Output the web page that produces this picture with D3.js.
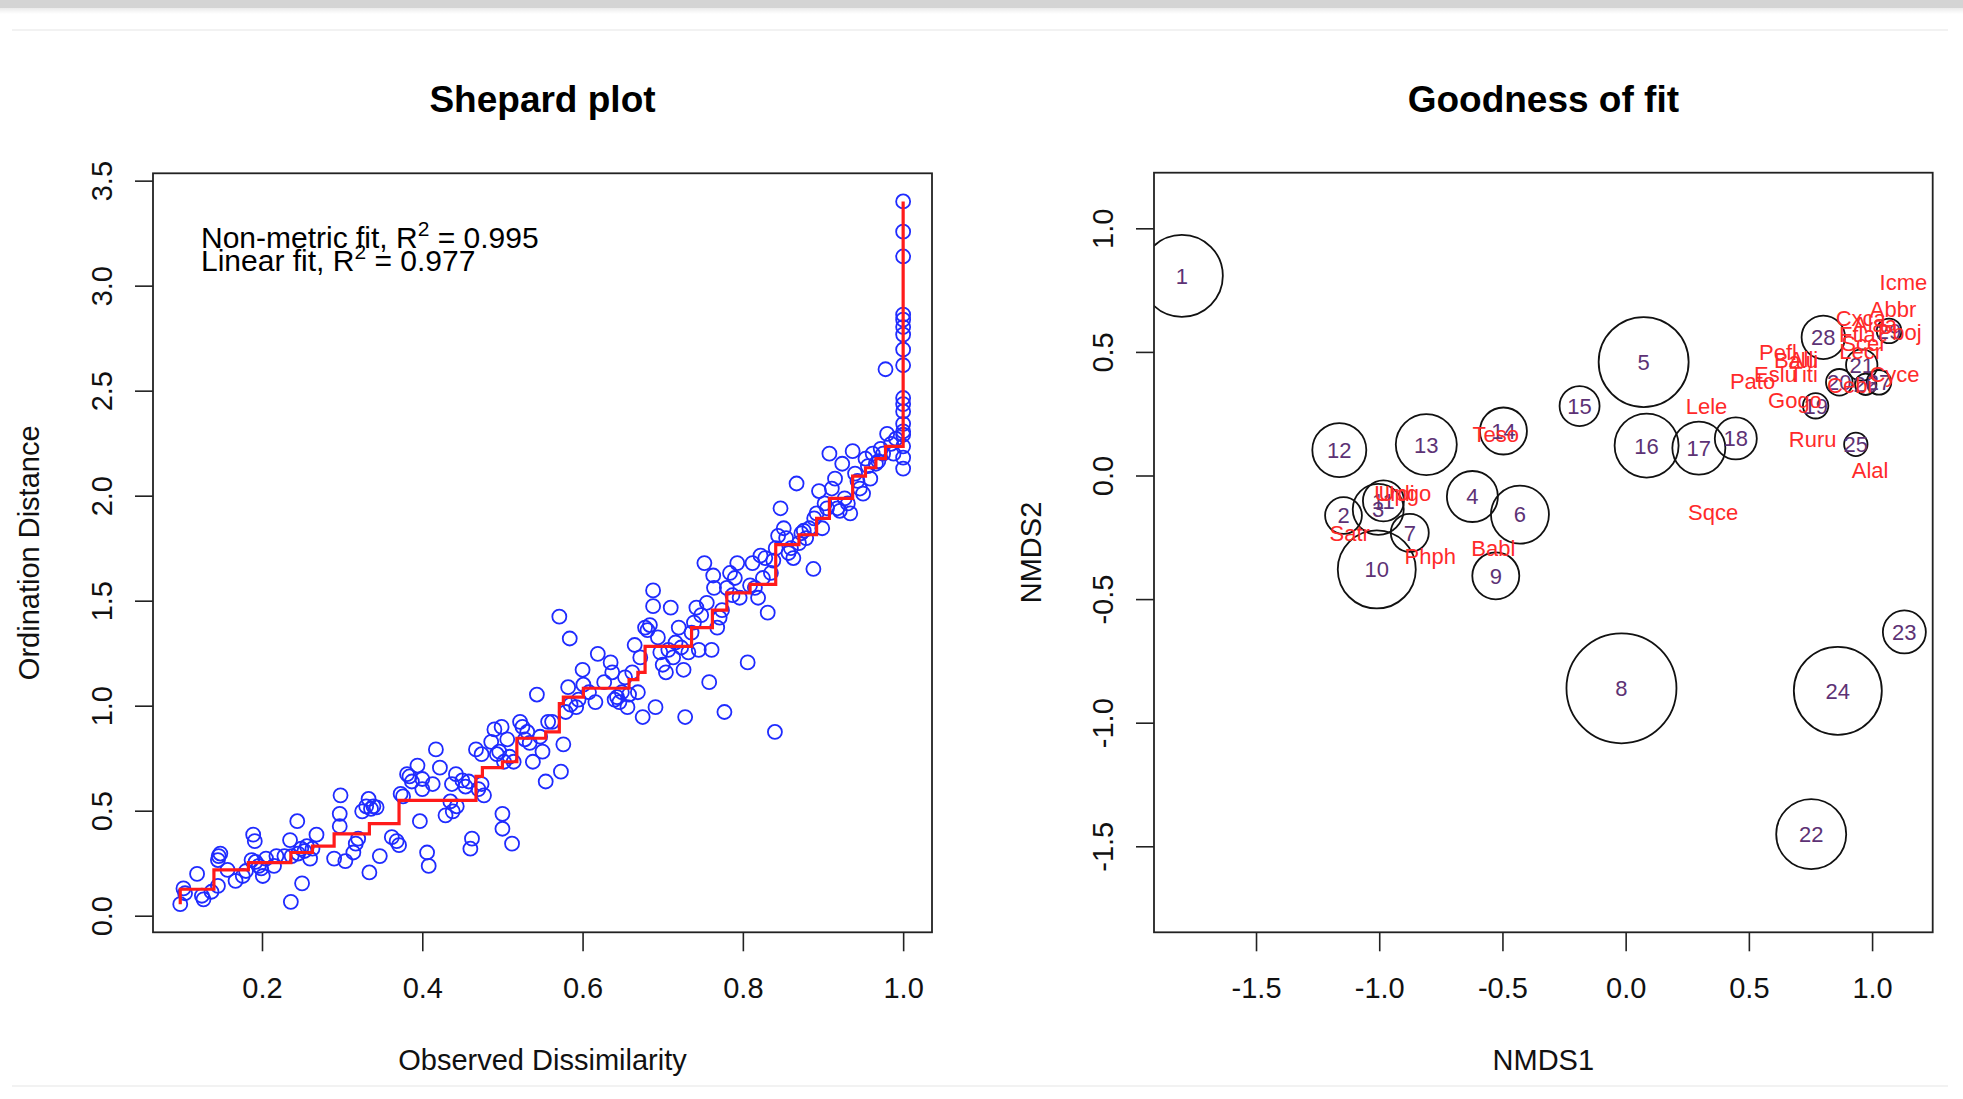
<!DOCTYPE html>
<html lang="en">
<head>
<meta charset="utf-8">
<title>Shepard plot / Goodness of fit</title>
<script src="https://cdn.jsdelivr.net/npm/d3@7"></script>
<style>
body { margin:0; background:#fff; }
#chart { position:absolute; left:0; top:0; }
svg text { font-family:"Liberation Sans", Arial, Helvetica, sans-serif; }
</style>
</head>
<body>
<div id="chart"></div>
<script>
// ---- Shepard plot: observed dissimilarity vs ordination distance ----
var dissim = [
	0.098,0.102,0.104,0.119,0.125,0.127,0.137,0.145,0.146,0.148,
	0.145,0.157,0.167,0.176,0.180,0.189,0.191,0.187,0.192,0.196,
	0.199,0.201,0.205,0.215,0.218,0.228,0.235,0.236,0.237,0.244,
	0.245,0.249,0.250,0.253,0.256,0.260,0.263,0.268,0.290,0.297,
	0.298,0.297,0.304,0.314,0.317,0.320,0.325,0.330,0.333,0.334,
	0.336,0.339,0.343,0.347,0.362,0.368,0.371,0.373,0.376,0.381,
	0.384,0.387,0.394,0.400,0.397,0.400,0.406,0.408,0.413,0.417,
	0.422,0.429,0.435,0.437,0.438,0.442,0.443,0.450,0.454,0.458,
	0.460,0.462,0.467,0.470,0.474,0.477,0.474,0.490,0.486,0.493,
	0.496,0.499,0.500,0.500,0.502,0.506,0.509,0.512,0.514,0.522,
	0.525,0.528,0.531,0.534,0.538,0.543,0.547,0.550,0.554,0.557,
	0.562,0.571,0.573,0.576,0.579,0.582,0.584,0.585,0.592,0.595,
	0.600,0.601,0.608,0.616,0.619,0.627,0.635,0.637,0.640,0.643,
	0.646,0.649,0.653,0.656,0.658,0.662,0.665,0.669,0.675,0.672,
	0.678,0.681,0.684,0.688,0.688,0.691,0.694,0.697,0.700,0.704,
	0.707,0.710,0.713,0.716,0.720,0.723,0.726,0.728,0.732,0.736,
	0.739,0.742,0.745,0.748,0.752,0.755,0.758,0.761,0.763,0.764,
	0.768,0.771,0.774,0.777,0.780,0.784,0.787,0.790,0.793,0.796,
	0.806,0.809,0.812,0.815,0.819,0.822,0.825,0.828,0.831,0.835,
	0.838,0.840,0.841,0.844,0.847,0.851,0.854,0.857,0.860,0.863,
	0.867,0.870,0.873,0.876,0.879,0.883,0.888,0.889,0.892,0.895,
	0.899,0.902,0.905,0.908,0.911,0.915,0.918,0.921,0.924,0.927,
	0.931,0.934,0.937,0.940,0.943,0.946,0.950,0.953,0.956,0.959,
	0.962,0.966,0.969,0.972,0.975,0.978,0.980,0.985,0.988,0.991,
	1.0,1.0,1.0,1.0,1.0,1.0,1.0,1.0,1.0,1.0,
	1.0,1.0,1.0,1.0,1.0,1.0,1.0,1.0
];
var ordDist = [
	0.055,0.130,0.107,0.199,0.095,0.078,0.114,0.142,0.284,0.296,
	0.265,0.218,0.166,0.189,0.213,0.386,0.355,0.265,0.256,0.237,
	0.225,0.189,0.272,0.237,0.284,0.284,0.360,0.066,0.284,0.450,
	0.296,0.319,0.154,0.308,0.331,0.272,0.319,0.386,0.272,0.426,
	0.573,0.485,0.260,0.301,0.343,0.367,0.497,0.521,0.556,0.206,
	0.509,0.521,0.516,0.284,0.374,0.355,0.336,0.580,0.568,0.674,
	0.663,0.639,0.715,0.651,0.450,0.603,0.301,0.237,0.627,0.792,
	0.705,0.478,0.544,0.627,0.497,0.674,0.521,0.644,0.615,0.639,
	0.319,0.367,0.792,0.603,0.627,0.573,0.769,0.887,0.828,0.769,
	0.781,0.899,0.485,0.414,0.733,0.840,0.757,0.343,0.733,0.923,
	0.899,0.840,0.875,0.823,0.733,1.053,0.852,0.781,0.639,0.923,
	0.923,1.424,0.686,0.816,0.970,1.088,1.320,1.005,0.993,1.029,
	1.171,1.100,1.064,1.017,1.247,1.112,1.206,1.159,1.029,1.041,
	1.017,1.064,1.135,0.993,1.053,1.159,1.289,1.064,0.946,1.230,
	1.372,1.360,1.384,1.549,1.474,0.993,1.325,1.254,1.195,1.159,
	1.266,1.467,1.230,1.301,1.372,1.277,1.171,0.946,1.254,1.348,
	1.396,1.467,1.266,1.431,1.679,1.490,1.112,1.266,1.620,1.561,
	1.372,1.419,1.455,0.970,1.561,1.632,1.526,1.608,1.679,1.514,
	1.206,1.573,1.679,1.561,1.514,1.715,1.608,1.703,1.443,1.632,
	1.691,0.875,1.750,1.809,1.940,1.845,1.798,1.727,1.750,1.703,
	2.058,1.774,1.821,1.833,1.798,1.845,1.651,1.892,1.916,2.022,
	1.845,1.963,1.940,2.200,2.034,2.081,1.940,1.928,2.152,1.987,
	1.963,1.916,2.212,2.105,2.070,2.034,2.010,2.176,2.141,2.081,
	2.200,2.152,2.164,2.223,2.200,2.602,2.294,2.247,2.200,2.271,
	3.401,3.257,3.139,2.862,2.838,2.803,2.767,2.696,2.621,2.465,
	2.436,2.401,2.342,2.306,2.235,2.181,2.129,2.290
];
// monotone (non-metric) fit, drawn as a step line
var stepX = [0.098,0.098,0.140,0.183,0.236,0.263,0.290,0.334,0.371,0.467,0.475,0.500,0.518,0.554,0.571,0.576,
	0.601,0.658,0.669,0.678,0.736,0.762,0.780,0.809,0.841,0.870,0.892,0.908,0.937,0.953,0.966,0.978,1.000];
var stepY = [0.055,0.126,0.218,0.253,0.301,0.331,0.390,0.438,0.549,0.663,0.705,0.733,0.845,0.875,1.010,1.041,
	1.083,1.124,1.159,1.282,1.372,1.455,1.537,1.578,1.767,1.814,1.892,1.987,2.093,2.133,2.176,2.235,3.401];
var shepTicksX = [0.2, 0.4, 0.6, 0.8, 1.0];
var shepTicksY = [0.0, 0.5, 1.0, 1.5, 2.0, 2.5, 3.0, 3.5];

// ---- Goodness of fit: sites (circle size = goodness) and species ----
var siteId  = ["1","2","3","4","5","6","7","8","9","10","11","12","13","14","15","16","17","18","19","20",
	"21","22","23","24","25","26","27","28","29"];
var siteX   = [-1.801,-1.145,-1.004,-0.622,0.073,-0.429,-0.876,-0.017,-0.527,-1.010,-0.983,-1.162,-0.809,-0.496,
	-0.187,0.085,0.297,0.447,0.771,0.867,0.958,0.753,1.131,0.861,0.934,0.974,1.028,0.802,1.069];
var siteY   = [0.808,-0.162,-0.137,-0.085,0.459,-0.158,-0.232,-0.861,-0.406,-0.380,-0.103,0.103,0.125,0.180,
	0.281,0.121,0.111,0.150,0.282,0.377,0.447,-1.451,-0.633,-0.871,0.126,0.369,0.377,0.559,0.585];
var siteGof = [0.041,0.0184,0.0255,0.0255,0.045,0.029,0.019,0.055,0.0235,0.039,0.0205,0.027,0.0305,0.0235,
	0.020,0.032,0.0265,0.021,0.0127,0.0133,0.0157,0.035,0.0215,0.044,0.0117,0.0107,0.0123,0.0217,0.0123];

var spName = ["Icme","Abbr","Cxca","Alaa","Ftla","Pboj","Scer","Lecr","Pefl","Balu","Alli","Eslu","Titi","Pato",
	"Cyce","Cebi","Gogo","Lele","Ruru","Alal","Sqce","Teso","Urdi","Upgo","Satr","Phph","Babl"];
var spX = [1.127,1.085,0.954,1.012,0.940,1.112,0.967,0.954,0.618,0.691,0.722,0.608,0.722,0.515,
	1.091,0.909,0.687,0.328,0.759,0.992,0.355,-0.527,-0.938,-0.896,-1.120,-0.793,-0.537];
var spY = [0.782,0.675,0.635,0.614,0.574,0.580,0.534,0.505,0.499,0.465,0.469,0.412,0.412,0.384,
	0.412,0.364,0.307,0.281,0.146,0.020,-0.150,0.168,-0.073,-0.073,-0.234,-0.325,-0.295];
var nmdsTicks = [-1.5, -1.0, -0.5, 0.0, 0.5, 1.0];

(function(){
	var W = 1963, H = 1099;
	var svg = d3.select("#chart").append("svg")
		.attr("width", W).attr("height", H);

	// page chrome: grey strip on top and faint rules
	var shade = svg.append("defs").append("linearGradient")
		.attr("id", "shade").attr("x1", 0).attr("y1", 0).attr("x2", 0).attr("y2", 1);
	shade.append("stop").attr("offset", "0%").attr("stop-color", "#000").attr("stop-opacity", 0.08);
	shade.append("stop").attr("offset", "100%").attr("stop-color", "#000").attr("stop-opacity", 0);
	svg.append("rect").attr("x", 0).attr("y", 0).attr("width", W).attr("height", 8).attr("fill", "#d4d4d4");
	svg.append("rect").attr("x", 0).attr("y", 8).attr("width", W).attr("height", 6).attr("fill", "url(#shade)");
	svg.append("rect").attr("x", 12).attr("y", 29).attr("width", 1936).attr("height", 2).attr("fill", "#f2f2f2");
	svg.append("rect").attr("x", 12).attr("y", 1085).attr("width", 1936).attr("height", 2).attr("fill", "#f2f2f2");

	// R prints negative ticks with a plain hyphen
	var fmt = function(d){ return d.toFixed(1); };

	function frame(g, x0, x1, y0, y1){
		g.append("rect").attr("x", x0).attr("y", y0).attr("width", x1 - x0).attr("height", y1 - y0)
			.attr("fill", "none").attr("stroke", "#222").attr("stroke-width", 1.8);
	}
	function axes(g, x, y, xt, yt, box){
		var ax = g.append("g").attr("transform", "translate(0," + box[3] + ")")
			.call(d3.axisBottom(x).tickValues(xt).tickSize(19).tickFormat(fmt));
		ax.select(".domain").remove();
		ax.selectAll("line").attr("stroke", "#222").attr("stroke-width", 1.6);
		ax.selectAll("text").attr("y", 66).attr("dy", null)
			.attr("font-size", 29).attr("fill", "#111");
		var ay = g.append("g").attr("transform", "translate(" + box[0] + ",0)")
			.call(d3.axisLeft(y).tickValues(yt).tickSize(18).tickFormat(fmt));
		ay.select(".domain").remove();
		ay.selectAll("line").attr("stroke", "#222").attr("stroke-width", 1.6);
		ay.selectAll("text").attr("x", null).attr("dy", null)
			.attr("transform", "translate(-41,0) rotate(-90)")
			.attr("text-anchor", "middle").attr("font-size", 29).attr("fill", "#111");
	}
	function labels(g, box, title, xlab, ylab, ylabX){
		var cx = (box[0] + box[1]) / 2, cy = (box[2] + box[3]) / 2;
		g.append("text").attr("x", cx).attr("y", 112).attr("text-anchor", "middle")
			.attr("font-size", 37).attr("font-weight", "bold").attr("fill", "#000").text(title);
		g.append("text").attr("x", cx).attr("y", 1070).attr("text-anchor", "middle")
			.attr("font-size", 29).attr("fill", "#111").text(xlab);
		g.append("text").attr("transform", "translate(" + ylabX + "," + cy + ") rotate(-90)")
			.attr("text-anchor", "middle").attr("font-size", 29).attr("fill", "#111").text(ylab);
	}

	// ================= Shepard plot =================
	var boxL = [153, 932, 173.3, 932.3];
	var xL = d3.scaleLinear().domain([0.064, 1.036]).range([boxL[0], boxL[1]]);
	var yL = d3.scaleLinear().domain([-0.079, 3.535]).range([boxL[3], boxL[2]]);
	var gL = svg.append("g");
	var pts = dissim.map(function(d, i){ return [d, ordDist[i]]; });
	gL.append("g").selectAll("circle").data(pts).enter().append("circle")
		.attr("cx", function(d){ return xL(d[0]); })
		.attr("cy", function(d){ return yL(d[1]); })
		.attr("r", 7)
		.attr("fill", "none").attr("stroke", "#1f2bff").attr("stroke-width", 1.8);
	var stepLine = d3.line().curve(d3.curveStepAfter)
		.x(function(d){ return xL(d[0]); }).y(function(d){ return yL(d[1]); });
	gL.append("path").datum(stepX.map(function(d, i){ return [d, stepY[i]]; }))
		.attr("d", stepLine).attr("fill", "none").attr("stroke", "#ff1a1a").attr("stroke-width", 3.2);
	frame(gL, boxL[0], boxL[1], boxL[2], boxL[3]);
	axes(gL, xL, yL, shepTicksX, shepTicksY, boxL);
	labels(gL, boxL, "Shepard plot", "Observed Dissimilarity", "Ordination Distance", 39);

	var leg = gL.append("g").attr("font-size", 30).attr("fill", "#000");
	var l1 = leg.append("text").attr("x", 201).attr("y", 248);
	l1.append("tspan").text("Non-metric fit, R");
	l1.append("tspan").attr("font-size", 21).attr("dy", -12).text("2");
	l1.append("tspan").attr("dy", 12).text(" = 0.995");
	var l2 = leg.append("text").attr("x", 201).attr("y", 271);
	l2.append("tspan").text("Linear fit, R");
	l2.append("tspan").attr("font-size", 21).attr("dy", -12).text("2");
	l2.append("tspan").attr("dy", 12).text(" = 0.977");

	// ================= Goodness of fit =================
	var boxR = [1154, 1932.7, 172.7, 932.3];
	var xR = d3.scaleLinear().domain([-1.914, 1.246]).range([boxR[0], boxR[1]]);
	var yR = d3.scaleLinear().domain([-1.848, 1.225]).range([boxR[3], boxR[2]]);
	var rR = d3.scaleLinear().domain([0, 0.01]).range([0, 10]);
	var gR = svg.append("g");
	svg.select("defs").append("clipPath").attr("id", "clipR").append("rect")
		.attr("x", boxR[0]).attr("y", boxR[2]).attr("width", boxR[1] - boxR[0]).attr("height", boxR[3] - boxR[2]);
	var plotR = gR.append("g").attr("clip-path", "url(#clipR)");
	var sites = siteId.map(function(d, i){ return {id: d, x: siteX[i], y: siteY[i], g: siteGof[i]}; });
	plotR.append("g").selectAll("circle").data(sites).enter().append("circle")
		.attr("cx", function(d){ return xR(d.x); })
		.attr("cy", function(d){ return yR(d.y); })
		.attr("r", function(d){ return rR(d.g); })
		.attr("fill", "none").attr("stroke", "#111").attr("stroke-width", 1.8);
	plotR.append("g").selectAll("text").data(sites).enter().append("text")
		.attr("x", function(d){ return xR(d.x); })
		.attr("y", function(d){ return yR(d.y); })
		.attr("dy", "0.36em").attr("text-anchor", "middle")
		.attr("font-size", 22).attr("fill", "#5d3275")
		.text(function(d){ return d.id; });
	var species = spName.map(function(d, i){ return {n: d, x: spX[i], y: spY[i]}; });
	plotR.append("g").selectAll("text").data(species).enter().append("text")
		.attr("x", function(d){ return xR(d.x); })
		.attr("y", function(d){ return yR(d.y); })
		.attr("dy", "0.36em").attr("text-anchor", "middle")
		.attr("font-size", 22).attr("fill", "#ff2a2a")
		.text(function(d){ return d.n; });
	frame(gR, boxR[0], boxR[1], boxR[2], boxR[3]);
	axes(gR, xR, yR, nmdsTicks, nmdsTicks, boxR);
	labels(gR, boxR, "Goodness of fit", "NMDS1", "NMDS2", 1041);
})();
</script>
</body>
</html>
